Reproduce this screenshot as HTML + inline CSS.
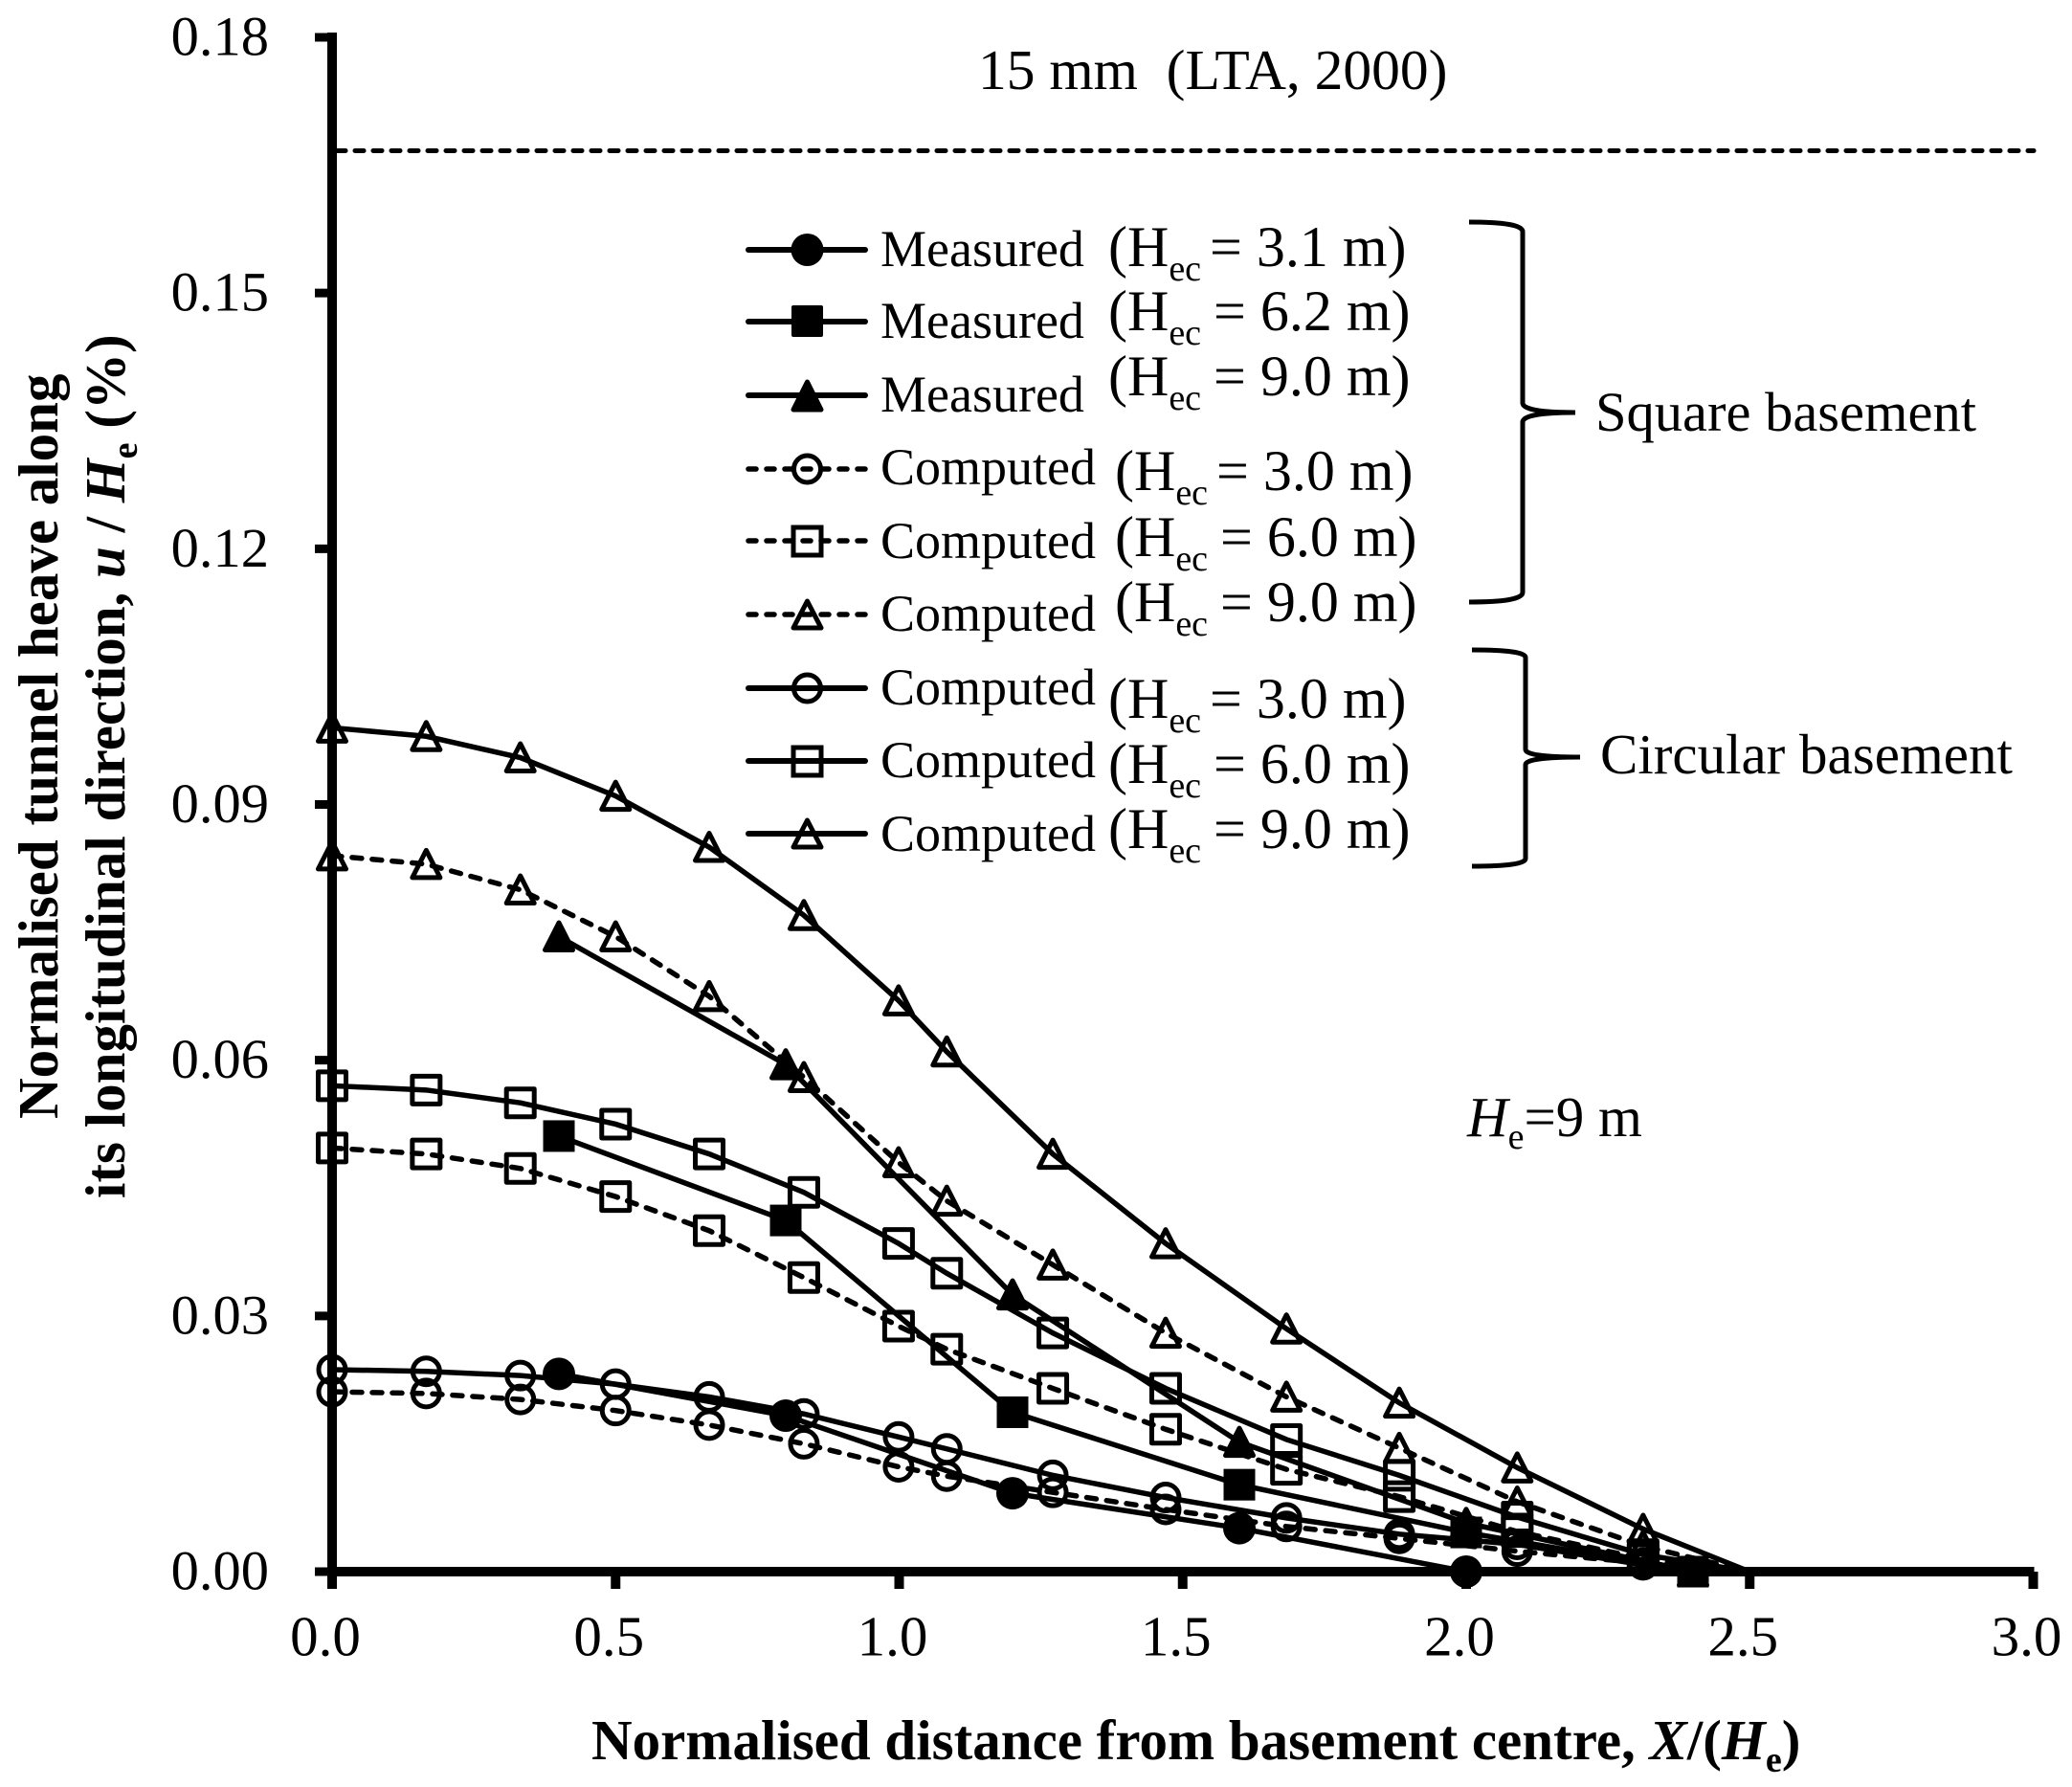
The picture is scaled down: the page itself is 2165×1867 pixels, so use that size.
<!DOCTYPE html>
<html lang="en">
<head>
<meta charset="utf-8">
<title>Normalised tunnel heave chart</title>
<style>
html,body{margin:0;padding:0;background:#fff;}
svg{display:block;}
text{font-family:"Liberation Serif",serif;fill:#000;}
</style>
</head>
<body>
<svg id="chart" xmlns="http://www.w3.org/2000/svg" width="2165" height="1867" viewBox="0 0 2165 1867">
  <rect x="0" y="0" width="2165" height="1867" fill="#fff"/>

  <g id="axes"></g>
  <g id="series"></g>

  <text x="1022" y="93" font-size="59.5" style="white-space:pre">15 mm  (LTA, 2000)</text>
  <text x="1533" y="1187" font-size="59"><tspan font-style="italic">H</tspan><tspan font-size="38" dy="13">e</tspan><tspan dy="-13">=9 m</tspan></text>

  <text transform="translate(60,1169) rotate(-90)" font-size="59" font-weight="bold">Normalised tunnel heave along</text>
  <text transform="translate(130,1252) rotate(-90)" font-size="59" font-weight="bold">its longitudinal direction, <tspan font-style="italic">u</tspan> / <tspan font-style="italic">H</tspan><tspan font-size="38" dy="13">e</tspan><tspan dy="-13"> (%)</tspan></text>
  <text x="618" y="1838" font-size="59" font-weight="bold">Normalised distance from basement centre, <tspan font-style="italic">X</tspan>/(<tspan font-style="italic">H</tspan><tspan font-size="38" dy="13">e</tspan><tspan dy="-13">)</tspan></text>

  <g id="legend" stroke-linecap="round">
    <g>
      <line x1="782" y1="261" x2="904" y2="261" stroke="#000" stroke-width="6"/>
      <circle cx="843.5" cy="261" r="17" fill="#000"/>
      <text x="920" y="278" font-size="54">Measured</text>
      <text x="1158" y="278" font-size="60">(H<tspan font-size="38" dy="15">ec</tspan><tspan dy="-15" dx="9">= 3.1 m)</tspan></text>
    </g>
    <g>
      <line x1="782" y1="336" x2="904" y2="336" stroke="#000" stroke-width="6"/>
      <rect x="827" y="319" width="33" height="33" rx="2" fill="#000"/>
      <text x="920" y="353" font-size="54">Measured</text>
      <text x="1158" y="345" font-size="60">(H<tspan font-size="38" dy="15">ec</tspan><tspan dy="-15" dx="13">= 6.2 m)</tspan></text>
    </g>
    <g>
      <line x1="782" y1="413" x2="904" y2="413" stroke="#000" stroke-width="6"/>
      <polygon points="843.5,399 858,428 829,428" fill="#000" stroke="#000" stroke-width="5" stroke-linejoin="round"/>
      <text x="920" y="430" font-size="54">Measured</text>
      <text x="1158" y="413" font-size="60">(H<tspan font-size="38" dy="15">ec</tspan><tspan dy="-15" dx="13">= 9.0 m)</tspan></text>
    </g>
    <g>
      <line x1="782" y1="490" x2="906" y2="490" stroke="#000" stroke-width="5.5" stroke-dasharray="8 11"/>
      <circle cx="843.5" cy="490" r="14" fill="none" stroke="#000" stroke-width="5"/>
      <text x="920" y="506" font-size="54">Computed</text>
      <text x="1165" y="512" font-size="60">(H<tspan font-size="38" dy="15">ec</tspan><tspan dy="-15" dx="9">= 3.0 m)</tspan></text>
    </g>
    <g>
      <line x1="782" y1="565" x2="906" y2="565" stroke="#000" stroke-width="5.5" stroke-dasharray="8 11"/>
      <rect x="829" y="551" width="29" height="29" fill="none" stroke="#000" stroke-width="5"/>
      <text x="920" y="583" font-size="54">Computed</text>
      <text x="1165" y="581" font-size="60">(H<tspan font-size="38" dy="15">ec</tspan><tspan dy="-15" dx="13">= 6.0 m)</tspan></text>
    </g>
    <g>
      <line x1="782" y1="642" x2="906" y2="642" stroke="#000" stroke-width="5.5" stroke-dasharray="8 11"/>
      <polygon points="843.5,628 858,656 829,656" fill="none" stroke="#000" stroke-width="5" stroke-linejoin="round"/>
      <text x="920" y="659" font-size="54">Computed</text>
      <text x="1165" y="649" font-size="60">(H<tspan font-size="38" dy="15">ec</tspan><tspan dy="-15" dx="13">= 9.0 m)</tspan></text>
    </g>
    <g>
      <line x1="782" y1="719" x2="904" y2="719" stroke="#000" stroke-width="6"/>
      <circle cx="843.5" cy="719" r="14" fill="none" stroke="#000" stroke-width="5"/>
      <text x="920" y="736" font-size="54">Computed</text>
      <text x="1158" y="750" font-size="60">(H<tspan font-size="38" dy="15">ec</tspan><tspan dy="-15" dx="9">= 3.0 m)</tspan></text>
    </g>
    <g>
      <line x1="782" y1="795" x2="904" y2="795" stroke="#000" stroke-width="6"/>
      <rect x="829" y="781" width="29" height="29" fill="none" stroke="#000" stroke-width="5"/>
      <text x="920" y="812" font-size="54">Computed</text>
      <text x="1158" y="818" font-size="60">(H<tspan font-size="38" dy="15">ec</tspan><tspan dy="-15" dx="13">= 6.0 m)</tspan></text>
    </g>
    <g>
      <line x1="782" y1="871" x2="904" y2="871" stroke="#000" stroke-width="6"/>
      <polygon points="843.5,857 858,885 829,885" fill="none" stroke="#000" stroke-width="5" stroke-linejoin="round"/>
      <text x="920" y="889" font-size="54">Computed</text>
      <text x="1158" y="886" font-size="60">(H<tspan font-size="38" dy="15">ec</tspan><tspan dy="-15" dx="13">= 9.0 m)</tspan></text>
    </g>
  </g>

  <path d="M1535 232 Q1591 232 1591 242 L1591 421 Q1591 431 1646 431 Q1591 431 1591 441 L1591 619 Q1591 629 1535 629" fill="none" stroke="#000" stroke-width="5"/>
  <text x="1667" y="450" font-size="58.5">Square basement</text>
  <path d="M1538 679 Q1594 679 1594 687 L1594 783 Q1594 791 1651 791 Q1594 791 1594 799 L1594 897 Q1594 905 1538 905" fill="none" stroke="#000" stroke-width="5"/>
  <text x="1672" y="808" font-size="59">Circular basement</text>

<script>
var xTickValues = [0, 0.5, 1, 1.5, 2, 2.5, 3];
var xTickLabels = ["0.0", "0.5", "1.0", "1.5", "2.0", "2.5", "3.0"];
var yTickValues = [0, 0.03, 0.06, 0.09, 0.12, 0.15, 0.18];
var yTickLabels = ["0.00", "0.03", "0.06", "0.09", "0.12", "0.15", "0.18"];

var limitValue = 0.1667;

var computedX = [0, 0.166, 0.332, 0.5, 0.665, 0.832, 0.999, 1.084, 1.271, 1.47, 1.683, 1.882, 2.09, 2.312, 2.5];
var measuredX = [0.4, 0.8, 1.2, 1.6, 2.0, 2.4];

var circular9 = [0.099, 0.098, 0.0955, 0.091, 0.085, 0.077, 0.067, 0.061, 0.049, 0.0385, 0.0285, 0.0198, 0.0122, 0.005, 0];
var square9 = [0.084, 0.083, 0.08, 0.0745, 0.0675, 0.058, 0.048, 0.0435, 0.036, 0.028, 0.0205, 0.0145, 0.0082, 0.003, 0];
var circular6 = [0.057, 0.0565, 0.055, 0.0525, 0.049, 0.0445, 0.0385, 0.035, 0.028, 0.0215, 0.0155, 0.0113, 0.0064, 0.002, 0];
var square6 = [0.0497, 0.049, 0.0473, 0.044, 0.04, 0.0345, 0.0288, 0.0261, 0.0215, 0.0167, 0.012, 0.0088, 0.0047, 0.0015, 0];
var circular3 = [0.0237, 0.0235, 0.023, 0.022, 0.0205, 0.0185, 0.0158, 0.0144, 0.0113, 0.0087, 0.0063, 0.0044, 0.0032, 0.0008, 0];
var square3 = [0.0211, 0.0209, 0.0202, 0.0189, 0.0172, 0.015, 0.0123, 0.0112, 0.0093, 0.0073, 0.0053, 0.0039, 0.0024, 0.001, 0];
var measured3 = [0.0232, 0.0183, 0.0092, 0.0051, 0];
var measured6 = [0.0511, 0.0412, 0.0187, 0.0102, 0.0046, 0];
var measured9 = [0.0745, 0.0595, 0.0325, 0.0152, 0.0057, 0];

var NS = "http://www.w3.org/2000/svg";
function xScale(v) { return 347 + 592.5 * v; }
function yScale(v) { return 1642 - (1603 / 0.18) * v; }

function make(tag, attrs, parent) {
  var el = document.createElementNS(NS, tag);
  for (var k in attrs) { el.setAttribute(k, attrs[k]); }
  parent.appendChild(el);
  return el;
}

var axes = document.getElementById("axes");
var seriesLayer = document.getElementById("series");

var yAxisLine = make("line", {x1: 347, y1: 34, x2: 347, y2: 1647, stroke: "#000", "stroke-width": 10}, axes);


var xAxisLine = make("line", {x1: 342, y1: 1642, x2: xScale(3) + 1, y2: 1642, stroke: "#000", "stroke-width": 10}, axes);


var limitLine = make("line", {x1: 352, y1: yScale(limitValue), x2: 2125, y2: yScale(limitValue), stroke: "#000", "stroke-width": 5, "stroke-dasharray": "9 10", "stroke-linecap": "round"}, axes);



xTickValues.forEach(function (v, i) {
  var t = make("line", {x1: xScale(v), y1: 1642, x2: xScale(v), y2: 1660, stroke: "#000", "stroke-width": 10}, axes);
  
  
  var l = make("text", {x: xScale(v) - 7, y: 1729.5, "font-size": 59, "text-anchor": "middle"}, axes);
  l.textContent = xTickLabels[i];
  
  
});
yTickValues.forEach(function (v, i) {
  var t = make("line", {x1: 329, y1: yScale(v), x2: 347, y2: yScale(v), stroke: "#000", "stroke-width": 9}, axes);
  
  
  var l = make("text", {x: 281, y: yScale(v) + 18.5, "font-size": 58.5, "text-anchor": "end"}, axes);
  l.textContent = yTickLabels[i];
  
  
});

function marker(shape, filled, x, y, parent) {
  var style = filled
    ? {fill: "#000"}
    : {fill: "none", stroke: "#000", "stroke-width": 5, "stroke-linejoin": "round"};
  var el;
  if (shape === "circle") {
    el = make("circle", {cx: x, cy: y, r: filled ? 17 : 14}, parent);
  } else if (shape === "square") {
    var s = filled ? 33 : 29;
    el = make("rect", {x: x - s / 2, y: y - s / 2, width: s, height: s}, parent);
  } else {
    var w = 14.5;
    el = make("polygon", {points: x + "," + (y - 14.5) + " " + (x + w) + "," + (y + 14) + " " + (x - w) + "," + (y + 14)}, parent);
    el.setAttribute("stroke", "#000");
    el.setAttribute("stroke-width", 5);
    el.setAttribute("stroke-linejoin", "round");
  }
  for (var k in style) { el.setAttribute(k, style[k]); }
  return el;
}

function drawSeries(name, xs, ys, shape, filled, dashed) {
  var g = make("g", {}, seriesLayer);
  
  
  var pts = ys.map(function (v, i) { return xScale(xs[i]) + "," + yScale(v); }).join(" ");
  var attrs = {points: pts, fill: "none", stroke: "#000", "stroke-width": 5.5};
  if (dashed) {
    attrs["stroke-dasharray"] = "10 11";
    attrs["stroke-linecap"] = "round";
  }
  var line = make("polyline", attrs, g);
  
  
  ys.forEach(function (v, i) {
    if (!filled && xs[i] === 2.5) { return; }
    var m = marker(shape, filled, xScale(xs[i]), yScale(v), g);
    
    
  });
}

drawSeries("computed-circular-9m", computedX, circular9, "triangle", false, false);
drawSeries("computed-square-9m", computedX, square9, "triangle", false, true);
drawSeries("computed-circular-6m", computedX, circular6, "square", false, false);
drawSeries("computed-square-6m", computedX, square6, "square", false, true);
drawSeries("computed-circular-3m", computedX, circular3, "circle", false, false);
drawSeries("computed-square-3m", computedX, square3, "circle", false, true);
drawSeries("measured-3-1m", measuredX, measured3, "circle", true, false);
drawSeries("measured-6-2m", measuredX, measured6, "square", true, false);
drawSeries("measured-9-0m", measuredX, measured9, "triangle", true, false);
</script>
</svg>
</body>
</html>
